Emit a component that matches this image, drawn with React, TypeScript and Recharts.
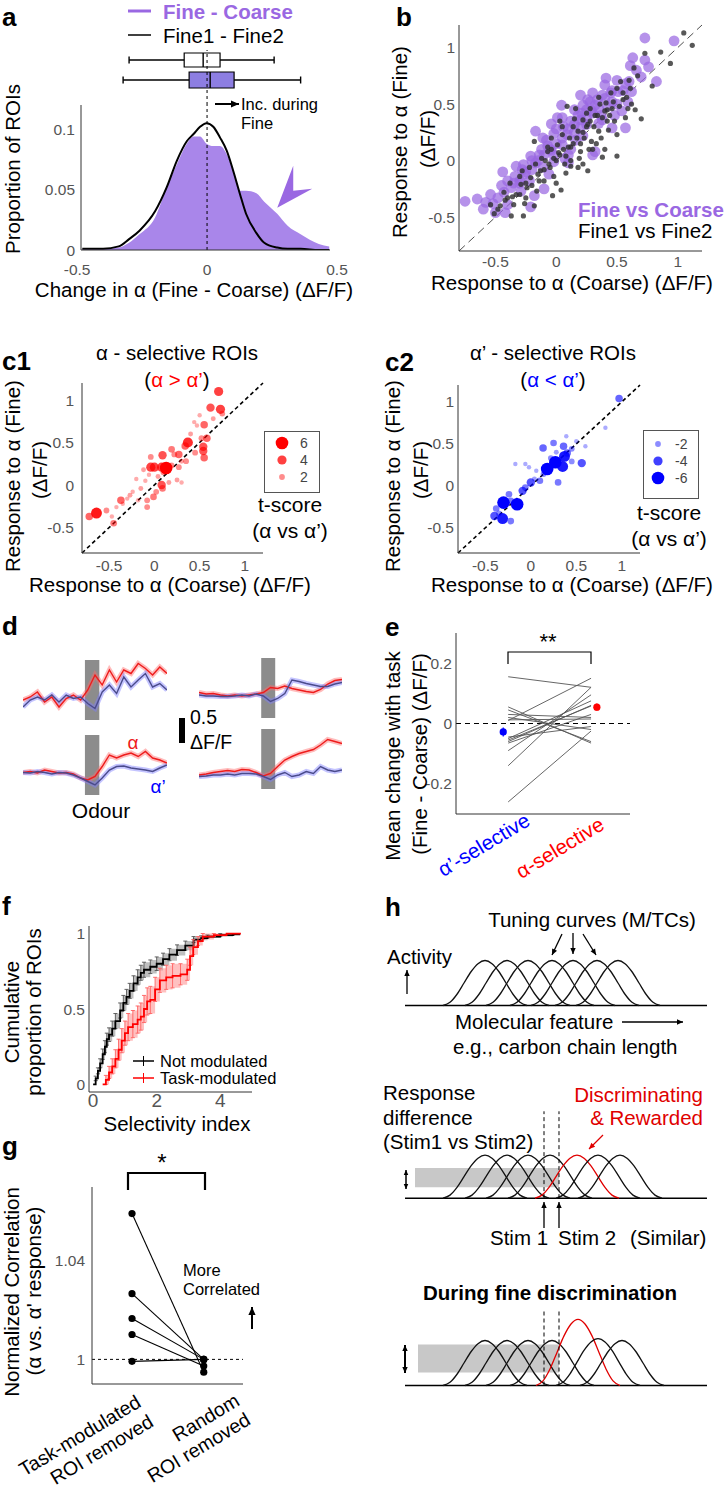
import React from 'react';
import {
  ComposedChart,
  ScatterChart,
  Scatter,
  Line,
  Area,
  XAxis,
  YAxis,
  ReferenceLine,
  ReferenceArea,
  ReferenceDot,
  ErrorBar,
} from 'recharts';

// ---- data ----

// a: histogram of change in alpha response
const HIST_X = [-0.48, -0.4, -0.34, -0.3, -0.26, -0.2, -0.155, -0.116, -0.078, -0.052, -0.027, -0.002, 0.024, 0.05, 0.076, 0.1, 0.127, 0.15, 0.19, 0.22, 0.27, 0.31, 0.36, 0.43, 0.47];
const HIST_FINE_COARSE = [0.001, 0.001, 0.002, 0.006, 0.013, 0.027, 0.052, 0.071, 0.088, 0.094, 0.094, 0.088, 0.086, 0.086, 0.079, 0.066, 0.049, 0.049, 0.047, 0.04, 0.03, 0.02, 0.013, 0.005, 0.003];
const HIST_FINE1_FINE2 = [0.001, 0.001, 0.003, 0.009, 0.016, 0.032, 0.052, 0.074, 0.09, 0.096, 0.102, 0.105, 0.102, 0.093, 0.082, 0.066, 0.046, 0.03, 0.014, 0.006, 0.002, 0.001, 0.001, 0, 0];
// box plots: [whisker lo, q1, median, q3, whisker hi]
const BOX_FINE1_FINE2 = [-0.3, -0.088, -0.015, 0.05, 0.258];
const BOX_FINE_COARSE = [-0.323, -0.069, 0.012, 0.104, 0.36];

// b: response to alpha, coarse (x) vs fine (y)
const B_FINE_COARSE: [number, number][] = [
  [0.73, 1.085], [0.97, 1.06], [0.63, 0.91], [0.73, 0.89], [0.61, 0.84], [0.76, 0.83], [0.825, 0.7], [0.7, 0.74],
  [0.41, 0.73], [0.5, 0.71], [0.57, 0.68], [0.62, 0.61], [0.46, 0.62], [0.38, 0.58], [0.26, 0.54], [0.044, 0.49],
  [0.21, 0.42], [0.29, 0.44], [0.25, 0.375], [0.37, 0.4], [0.54, 0.44], [0.57, 0.29], [0.46, 0.29], [-0.04, 0.325],
  [-0.17, 0.26], [-0.11, 0.2], [-0.02, 0.24], [0.06, 0.3], [0.09, 0.23], [0.32, 0.08], [0.3, 0.05], [0.16, 0.18],
  [-0.07, 0.13], [0.05, 0.14], [0.12, 0.1], [-0.27, -0.035], [-0.17, -0.02], [-0.11, -0.06], [-0.44, -0.1], [-0.34, -0.14],
  [-0.26, -0.12], [-0.4, -0.18], [-0.22, -0.18], [-0.37, -0.24], [-0.29, -0.27], [-0.1, -0.25], [-0.18, -0.31], [-0.54, -0.3],
  [-0.43, -0.28], [-0.75, -0.36], [-0.65, -0.34], [-0.58, -0.37], [-0.6, -0.43], [-0.5, -0.46], [-0.42, -0.46], [-0.4, -0.39],
  [-0.21, -0.41], [0.07, 0.02], [-0.02, -0.01], [0.15, 0.45], [0.22, 0.49], [0.32, 0.49], [0.34, 0.54], [0.46, 0.52],
  [0.4, 0.67], [0.51, 0.61], [0.59, 0.52], [0.25, 0.32], [0.15, 0.32], [0.01, 0.38], [-0.04, 0.09], [-0.14, 0.05],
  [-0.21, 0.04], [-0.3, -0.18], [-0.48, -0.33], [0.2, 0.3], [0.35, 0.33], [0.1, 0.05], [-0.06, -0.12], [0.42, 0.48],
  [-0.3, -0.2], [-0.25, -0.1], [-0.2, -0.08], [-0.15, 0.0], [-0.1, 0.05], [-0.05, 0.1], [0.0, 0.15], [0.05, 0.2],
  [0.1, 0.28], [0.15, 0.25], [0.2, 0.36], [0.25, 0.45], [0.3, 0.42], [0.35, 0.46], [0.4, 0.55], [0.45, 0.6],
  [0.5, 0.5], [0.55, 0.62], [0.3, 0.6], [0.28, 0.52], [0.18, 0.4], [0.12, 0.35], [0.0, 0.28], [-0.08, 0.18],
  [-0.12, 0.1], [-0.2, 0.0], [-0.28, -0.08], [-0.35, -0.2], [-0.33, -0.05], [0.05, 0.38], [0.2, 0.58], [0.6, 0.7],
  [0.66, 0.8], [0.38, 0.36], [0.48, 0.4], [0.1, -0.02], [-0.02, 0.05], [0.22, 0.22], [-0.45, -0.22], [-0.52, -0.38],
];
const B_FINE1_FINE2: [number, number][] = [
  [1.05, 1.13], [1.12, 1.02], [0.86, 0.96], [0.73, 0.95], [0.94, 0.86], [0.64, 0.82], [0.67, 0.75], [0.79, 0.66],
  [0.6, 0.71], [0.53, 0.7], [0.5, 0.64], [0.61, 0.64], [0.65, 0.45], [0.7, 0.37], [0.5, 0.04], [0.38, 0.03],
  [0.22, -0.03], [0.04, -0.26], [-0.03, -0.31], [-0.27, -0.49], [-0.37, -0.49], [-0.54, -0.39], [-0.48, -0.43], [0.09, 0.48],
  [0.03, 0.35], [-0.18, 0.17], [0.41, 0.51], [0.46, 0.46], [0.42, 0.35], [0.35, 0.26], [0.5, 0.23], [0.26, 0.32],
  [0.18, 0.26], [0.11, 0.2], [0.01, 0.14], [-0.07, 0.08], [-0.12, 0.02], [-0.02, 0.02], [0.07, -0.03], [0.12, 0.0],
  [-0.13, -0.09], [-0.21, -0.15], [-0.29, -0.21], [-0.33, -0.3], [-0.25, -0.33], [-0.16, -0.27], [-0.4, -0.33], [-0.46, -0.4],
  [-0.1, -0.18], [-0.02, -0.14], [0.08, -0.11], [0.2, 0.08], [0.29, 0.17], [0.37, 0.2], [0.43, 0.27], [0.32, 0.4],
  [0.25, 0.42], [0.15, 0.37], [0.35, 0.56], [0.55, 0.54], [0.57, 0.38], [0.59, 0.46], [0.26, -0.09], [0.19, 0.02],
  [-0.05, -0.06], [0.02, 0.07], [-0.17, -0.03], [-0.22, -0.06], [-0.3, -0.14], [-0.35, -0.39], [-0.18, -0.4], [-0.43, -0.28],
  [-0.04, 0.2], [0.05, 0.23], [0.42, 0.45], [0.23, 0.2], [0.12, 0.12], [-0.09, 0.0], [-0.28, -0.09], [-0.38, -0.2],
  [-0.51, -0.47], [0.18, -0.06], [0.3, 0.1], [0.14, 0.3], [-0.24, -0.24],
  [-0.25, -0.2], [-0.2, -0.22], [-0.15, -0.12], [-0.1, -0.08], [-0.06, -0.03], [0.0, 0.0], [0.03, 0.05], [0.06, 0.1],
  [0.1, 0.12], [0.14, 0.15], [0.17, 0.2], [0.22, 0.25], [0.25, 0.3], [0.28, 0.35], [0.31, 0.3], [0.34, 0.4],
  [0.38, 0.38], [0.4, 0.44], [0.44, 0.4], [0.47, 0.52], [0.48, 0.35], [0.52, 0.48], [0.55, 0.6], [0.58, 0.56],
  [0.62, 0.5], [0.33, 0.15], [0.27, 0.1], [0.2, 0.15], [0.08, 0.04], [-0.04, 0.1], [-0.14, -0.18], [-0.3, -0.3],
  [-0.36, -0.32], [-0.42, -0.35], [-0.26, -0.38], [0.0, -0.2], [0.12, -0.05], [0.4, 0.1], [0.16, 0.46], [0.28, 0.46],
  [0.45, 0.6], [0.36, 0.5], [0.22, 0.36], [0.05, 0.3], [-0.07, 0.12],
];

// c1 / c2: [coarse, fine, |t-score|]
const C1_ALPHA_SEL: [number, number, number][] = [
  [0.71, 1.1, 4], [0.62, 0.91, 3.5], [0.73, 0.89, 4], [0.75, 0.84, 2], [0.55, 0.71, 3], [0.52, 0.55, 2], [0.58, 0.55, 3],
  [0.37, 0.5, 4.5], [0.34, 0.46, 3], [0.54, 0.45, 3.5], [0.54, 0.4, 3.5], [0.55, 0.32, 3], [0.09, 0.35, 3.5], [0.19, 0.42, 2.5],
  [0.27, 0.36, 3], [0.22, 0.36, 2], [-0.04, 0.33, 2], [-0.04, 0.21, 4], [0.0, 0.21, 4], [0.08, 0.21, 4], [0.19, 0.23, 2],
  [0.27, 0.21, 2], [-0.12, 0.18, 1.5], [0.08, 0.0, 3.5], [0.09, -0.04, 2.5], [0.02, -0.08, 2], [-0.01, -0.14, 2.5],
  [-0.08, -0.18, 2], [-0.15, -0.04, 1.5], [-0.2, 0.07, 1.2], [-0.27, -0.12, 1.5], [-0.37, -0.18, 3], [-0.18, -0.18, 1.2],
  [-0.08, -0.26, 2], [-0.42, -0.26, 1.2], [-0.53, -0.3, 2], [-0.64, -0.33, 5], [-0.72, -0.37, 3], [-0.45, -0.45, 2.5],
  [-0.47, -0.37, 1.2], [0.4, 0.6, 1.5], [0.44, 0.74, 1.2], [0.5, 0.82, 1.2], [0.47, 0.7, 1.2], [0.25, 0.06, 1.5],
  [0.3, 0.03, 1.2], [0.16, 0.03, 1.5], [0.04, 0.1, 1.5], [-0.06, 0.12, 1.2], [-0.1, 0.05, 1.2], [-0.24, -0.08, 1.2],
  [-0.3, -0.16, 1.2], [-0.35, -0.22, 1.2], [0.1, 0.15, 2], [0.3, 0.28, 1.5], [0.45, 0.38, 2], [0.65, 0.78, 1.5],
  [0.35, 0.28, 2], [0.13, 0.2, 6],
];
const C2_ALPHA2_SEL: [number, number, number][] = [
  [0.97, 1.04, 3], [0.82, 0.69, 1.2], [0.135, 0.45, 3], [0.25, 0.51, 2.5], [0.36, 0.47, 3], [0.39, 0.59, 1.2], [0.45, 0.44, 2],
  [0.56, 0.27, 3.5], [0.37, 0.35, 5], [0.35, 0.23, 5], [0.3, 0.04, 2.5], [0.1, 0.06, 2.5], [0.04, 0.08, 1.5],
  [0.0, 0.04, 3.5], [-0.09, -0.06, 3.5], [-0.06, -0.02, 2.5], [-0.17, 0.26, 1.2], [-0.06, 0.26, 1.2], [-0.24, -0.1, 2.5],
  [-0.22, -0.18, 2.5], [-0.38, -0.27, 2.5], [-0.4, -0.36, 3.5], [-0.31, -0.39, 5], [-0.22, -0.42, 2.5], [-0.35, -0.33, 2],
  [0.14, 0.14, 2], [0.22, 0.33, 2], [0.45, 0.29, 2], [0.4, 0.39, 3], [0.28, 0.4, 1.5], [0.06, 0.18, 1.2], [-0.02, 0.22, 1.2],
  [0.5, 0.53, 1.2], [0.6, 0.47, 1.2], [0.18, 0.2, 6], [0.27, 0.28, 6], [-0.15, -0.22, 6], [-0.3, -0.2, 6],
];

// d: example traces (ΔF/F), alpha (red) and alpha' (blue)
const D_T = [0, 0.5, 1, 1.5, 2, 2.5, 3, 3.5, 4, 4.5, 5, 5.5, 6, 6.5, 7, 7.5, 8, 8.5, 9, 9.5, 10];
const D_TL_ALPHA = [0.07, 0.13, 0.23, 0.03, 0.13, -0.07, 0.1, 0.17, 0.07, 0.27, 0.57, 0.37, 0.67, 0.43, 0.67, 0.6, 0.8, 0.7, 0.57, 0.73, 0.6];
const D_TL_ALPHA2 = [-0.07, 0.07, 0.13, 0.07, 0.17, 0.03, 0.17, 0.1, 0.13, 0.0, -0.1, 0.23, 0.37, 0.2, 0.53, 0.33, 0.47, 0.6, 0.33, 0.4, 0.27];
const D_TR_ALPHA = [0.05, 0.02, 0.03, 0, -0.02, 0, -0.02, 0, 0.02, 0.05, 0.15, 0.13, 0.18, 0.13, 0.1, 0.07, 0.05, 0.11, 0.22, 0.29, 0.31];
const D_TR_ALPHA2 = [0, -0.02, -0.02, -0.03, -0.03, -0.02, 0, -0.02, 0.02, -0.02, -0.13, -0.07, 0.03, 0.3, 0.27, 0.23, 0.2, 0.17, 0.17, 0.22, 0.25];
const D_BL_ALPHA = [0, 0.02, -0.01, 0.05, 0.02, -0.01, 0, -0.03, -0.11, -0.15, -0.08, 0.12, 0.35, 0.29, 0.35, 0.39, 0.32, 0.42, 0.29, 0.25, 0.19];
const D_BL_ALPHA2 = [0, -0.01, 0.02, 0, -0.03, 0, -0.01, -0.05, -0.11, -0.18, -0.25, -0.11, 0.05, 0.12, 0.13, 0.09, 0.07, 0.05, 0.02, 0.09, 0.15];
const D_BR_ALPHA = [0, 0.02, 0.05, 0.07, 0.09, 0.07, 0.11, 0.1, 0.05, -0.02, 0.03, 0.17, 0.3, 0.37, 0.43, 0.47, 0.51, 0.6, 0.71, 0.67, 0.63];
const D_BR_ALPHA2 = [-0.03, -0.02, 0, 0, 0.02, 0, 0.03, 0.03, 0.02, -0.03, -0.09, 0, 0.05, -0.03, 0, 0.07, 0.03, 0.17, 0.1, 0.07, 0.1];

// e: mean change with task, per animal (alpha'-selective -> alpha-selective)
const E_ALPHA2_SEL = [0.155, -0.26, -0.14, -0.09, 0.055, 0.045, -0.06, -0.055, -0.05, 0.03, 0.01, 0.012, -0.045, 0.02, -0.065];
const E_ALPHA_SEL = [0.12, -0.025, 0.12, 0.095, -0.065, -0.06, 0.06, 0.058, 0.075, 0.02, 0.15, 0.015, -0.01, -0.02, 0.03];
const E_MEAN = [-0.028, 0.054];
const E_SEM = [0.015, 0.012];

// f: cumulative proportion vs selectivity index
const F_NOT_X = [0, 0.08, 0.15, 0.22, 0.3, 0.37, 0.43, 0.5, 0.6, 0.7, 0.85, 0.95, 1.05, 1.15, 1.27, 1.4, 1.5, 1.6, 1.8, 2.0, 2.2, 2.4, 2.64, 2.9, 3.16, 3.4, 3.6, 4.0, 4.4, 4.6];
const F_NOT_Y = [0, 0.04, 0.09, 0.14, 0.2, 0.25, 0.3, 0.33, 0.37, 0.42, 0.49, 0.54, 0.58, 0.62, 0.67, 0.71, 0.74, 0.76, 0.78, 0.8, 0.83, 0.86, 0.89, 0.92, 0.96, 0.97, 0.98, 0.99, 0.995, 1.0];
const F_NOT_ERR = [0, 0.015, 0.02, 0.03, 0.035, 0.04, 0.04, 0.045, 0.05, 0.05, 0.05, 0.05, 0.05, 0.05, 0.05, 0.05, 0.05, 0.05, 0.045, 0.045, 0.04, 0.04, 0.035, 0.03, 0.02, 0.015, 0.01, 0.01, 0.005, 0];
const F_TASK_X = [0.3, 0.4, 0.5, 0.6, 0.7, 0.8, 0.9, 1.0, 1.1, 1.25, 1.4, 1.5, 1.6, 1.7, 1.8, 1.95, 2.1, 2.3, 2.5, 2.75, 2.96, 3.05, 3.15, 3.3, 3.45, 3.8, 4.2, 4.65];
const F_TASK_Y = [0, 0.03, 0.08, 0.12, 0.17, 0.23, 0.29, 0.34, 0.38, 0.4, 0.43, 0.45, 0.5, 0.55, 0.56, 0.63, 0.69, 0.71, 0.72, 0.73, 0.76, 0.85, 0.91, 0.95, 0.98, 0.99, 1.0, 1.0];
const F_TASK_ERR = [0, 0.03, 0.04, 0.05, 0.06, 0.07, 0.08, 0.08, 0.09, 0.09, 0.09, 0.09, 0.09, 0.09, 0.09, 0.08, 0.08, 0.08, 0.08, 0.07, 0.07, 0.06, 0.05, 0.03, 0.02, 0.01, 0, 0];

// g: normalized correlation
const G_TASK_REMOVED = [1.0592, 1.0267, 1.0166, 1.0101, 0.9992];
const G_RANDOM_REMOVED = [0.9948, 1.0, 1.0, 0.9973, 1.0];

// h: schematic tuning curves (one bump profile, shifted along the feature axis)
const BUMP_DX = [-42, -35, -28, -21, -14, -7, 0, 7, 14, 21, 28, 35, 42];
const BUMP_H = [0, 0.07, 0.25, 0.5, 0.75, 0.93, 1, 0.93, 0.75, 0.5, 0.25, 0.07, 0];
const H_TOP_CENTERS = [80, 102, 123, 147, 168, 192, 213];
const H_MID_CENTERS = [80, 102, 123, 145, 172, 193, 215];
const H_BOT_CENTERS = [80, 102, 123, 147, 173, 193, 217];
const H_BOT_HEIGHTS = [1, 1, 1, 1, 1.47, 1.04, 1];
const H_REWARDED = 4;
const H_STIMS = [139, 154];

// ---- styling ----
const FONT = '"Liberation Sans", Arial, Helvetica, sans-serif';
const PURPLE = '#9a68e2';
const PURPLE_FILL = '#a986ea';
const BOX_PURPLE = '#8d7ee2';
const AXIS = '#333';
const TICK = { fontSize: 15.5, fill: '#555', fontFamily: FONT };
const RED = '#ff0000';
const BLUE = '#0000ff';
const LBL = 20.5; // axis-label font size
const ANN = 16.5; // small annotation font size

type Frame = { x0: number; y0: number; x1: number; y1: number; yw?: number; xh?: number; mt?: number; mr?: number };
function place(f: Frame) {
  const yw = f.yw ?? 0;
  const xh = f.xh ?? 0;
  const mt = f.mt ?? 0;
  const mr = f.mr ?? 0;
  return {
    style: { position: 'absolute' as const, left: f.x0 - yw, top: f.y0 - mt },
    width: f.x1 - f.x0 + yw + mr,
    height: f.y1 - f.y0 + mt + xh,
    margin: { top: mt, right: mr, bottom: 0, left: 0 },
  };
}

function T({ x, y, s = LBL, c = '#000', b = false, a = 'start', r = 0, children }: any) {
  const tx = a === 'middle' ? '-50%' : a === 'end' ? '-100%' : '0%';
  return (
    <div
      style={{
        position: 'absolute',
        left: x,
        top: y,
        fontFamily: FONT,
        fontSize: s,
        color: c,
        fontWeight: b ? 700 : 400,
        whiteSpace: 'nowrap',
        lineHeight: 1,
        transform: `translate(${tx}, -50%) rotate(${r}deg)`,
      }}
    >
      {children}
    </div>
  );
}

function Arrow({ x1, y1, x2, y2, c = '#000', w = 1.3, h = 6, both = false }: any) {
  const ang = Math.atan2(y2 - y1, x2 - x1);
  const head = (x: number, y: number, a: number) => {
    const bx = x - h * Math.cos(a);
    const by = y - h * Math.sin(a);
    const px = h * 0.45 * Math.sin(a);
    const py = h * 0.45 * Math.cos(a);
    return <polygon points={`${x},${y} ${bx + px},${by - py} ${bx - px},${by + py}`} fill={c} />;
  };
  return (
    <g>
      <line x1={x1} y1={y1} x2={x2} y2={y2} stroke={c} strokeWidth={w} />
      {head(x2, y2, ang)}
      {both ? head(x1, y1, ang + Math.PI) : null}
    </g>
  );
}

const sizeR = (t: number) => 1.2 + t * 0.85;
const sizeA = (t: number) => Math.min(1, 0.15 + t * 0.15);

// ---- panels ----
function PanelA() {
  const rows = HIST_X.map((x, i) => ({ x, fc: HIST_FINE_COARSE[i], ff: HIST_FINE1_FINE2[i] }));
  const xDom: [number, number] = [-0.485, 0.473];
  const boxes = [
    { s: BOX_FINE1_FINE2, c: 45, h: 7, fill: '#ffffff' },
    { s: BOX_FINE_COARSE, c: 25, h: 8, fill: BOX_PURPLE },
  ];
  const pb = place({ x0: 81, y0: 50, x1: 330, y1: 105 });
  const pm = place({ x0: 81, y0: 105, x1: 330, y1: 250, yw: 45, xh: 30, mt: 4, mr: 20 });
  return (
    <>
      <div style={pb.style}>
        <ComposedChart width={pb.width} height={pb.height} margin={pb.margin} data={boxes.map((b) => ({ x: b.s[2], y: b.c }))}>
          <XAxis type="number" dataKey="x" domain={xDom} allowDataOverflow hide />
          <YAxis type="number" dataKey="y" domain={[0, 55]} allowDataOverflow hide />
          <ReferenceLine x={0} stroke="#000" strokeDasharray="3 3" strokeWidth={1} />
          {boxes.map((b, i) => (
            <React.Fragment key={i}>
              <ReferenceLine segment={[{ x: b.s[0], y: b.c }, { x: b.s[1], y: b.c }]} stroke="#000" strokeWidth={1.4} />
              <ReferenceLine segment={[{ x: b.s[3], y: b.c }, { x: b.s[4], y: b.c }]} stroke="#000" strokeWidth={1.4} />
              <ReferenceLine segment={[{ x: b.s[0], y: b.c - 3.5 }, { x: b.s[0], y: b.c + 3.5 }]} stroke="#000" strokeWidth={1.4} />
              <ReferenceLine segment={[{ x: b.s[4], y: b.c - 3.5 }, { x: b.s[4], y: b.c + 3.5 }]} stroke="#000" strokeWidth={1.4} />
              <ReferenceArea x1={b.s[1]} x2={b.s[3]} y1={b.c - b.h} y2={b.c + b.h} fill={b.fill} fillOpacity={1} stroke="#000" strokeWidth={1.2} />
              <ReferenceLine segment={[{ x: b.s[2], y: b.c - b.h }, { x: b.s[2], y: b.c + b.h }]} stroke="#000" strokeWidth={1.4} />
            </React.Fragment>
          ))}
          <Scatter dataKey="y" isAnimationActive={false} shape={() => <g />} />
        </ComposedChart>
      </div>
      <div style={pm.style}>
        <ComposedChart width={pm.width} height={pm.height} margin={pm.margin} data={rows}>
          <XAxis type="number" dataKey="x" domain={xDom} allowDataOverflow ticks={[-0.5, 0, 0.5]} interval={0}
            tick={TICK} tickSize={0} tickMargin={14} height={30} axisLine={{ stroke: AXIS }} />
          <YAxis type="number" domain={[0, 0.12]} allowDataOverflow ticks={[0, 0.05, 0.1]} tick={TICK}
            tickSize={0} tickMargin={6} width={45} axisLine={{ stroke: AXIS }} />
          <Area type="monotone" dataKey="fc" stroke="none" fill={PURPLE_FILL} fillOpacity={1} isAnimationActive={false} />
          <Line type="monotone" dataKey="ff" stroke="#000" strokeWidth={2} dot={false} isAnimationActive={false} />
          <ReferenceLine x={0} stroke="#000" strokeDasharray="3 3" strokeWidth={1} />
          <ReferenceDot x={0.27} y={0.035} r={1} shape={(p: any) => (
            <path d={`M${p.cx},${p.cy} L${p.cx + 16},${p.cy - 42} L${p.cx + 16},${p.cy - 17} L${p.cx + 35},${p.cy - 19} Z`} fill={PURPLE} />
          )} />
        </ComposedChart>
      </div>
    </>
  );
}

function PanelB() {
  const fc = B_FINE_COARSE.map(([x, y]) => ({ x, y }));
  const ff = B_FINE1_FINE2.map(([x, y]) => ({ x, y }));
  const p = place({ x0: 459, y0: 25, x1: 702, y1: 251, yw: 40, xh: 25, mt: 4, mr: 20 });
  return (
    <div style={p.style}>
      <ScatterChart width={p.width} height={p.height} margin={p.margin}>
        <XAxis type="number" dataKey="x" domain={[-0.8, 1.2]} allowDataOverflow ticks={[-0.5, 0, 0.5, 1]} interval={0}
          tick={TICK} tickSize={0} tickMargin={5} height={25} axisLine={{ stroke: AXIS }} />
        <YAxis type="number" dataKey="y" domain={[-0.8, 1.2]} allowDataOverflow ticks={[-0.5, 0, 0.5, 1]} interval={0}
          tick={TICK} tickSize={0} tickMargin={4} width={40} axisLine={{ stroke: AXIS }} />
        <Scatter data={fc} isAnimationActive={false}
          shape={(s: any) => <circle cx={s.cx} cy={s.cy} r={5.4} fill={PURPLE} fillOpacity={0.72} />} />
        <Scatter data={ff} isAnimationActive={false}
          shape={(s: any) => <circle cx={s.cx} cy={s.cy} r={2.6} fill="#2e2e2e" fillOpacity={0.8} />} />
        <ReferenceLine segment={[{ x: -0.8, y: -0.8 }, { x: 1.2, y: 1.2 }]} stroke="#222" strokeWidth={0.8} strokeDasharray="8 5" />
      </ScatterChart>
    </div>
  );
}

function PanelC({ pts, color, frame }: { pts: [number, number, number][]; color: string; frame: Frame }) {
  const rows = [...pts].sort((a, b) => a[2] - b[2]).map(([x, y, t]) => ({ x, y, t }));
  const p = place(frame);
  return (
    <div style={p.style}>
      <ScatterChart width={p.width} height={p.height} margin={p.margin}>
        <XAxis type="number" dataKey="x" domain={[-0.8, 1.2]} allowDataOverflow ticks={[-0.5, 0, 0.5, 1]} interval={0}
          tick={TICK} tickSize={0} tickMargin={7} height={25} axisLine={{ stroke: AXIS }} />
        <YAxis type="number" dataKey="y" domain={[-0.8, 1.2]} allowDataOverflow ticks={[-0.5, 0, 0.5, 1]} interval={0}
          tick={TICK} tickSize={0} tickMargin={frame.yw === 45 ? 8 : 4} width={frame.yw} axisLine={{ stroke: AXIS }} />
        <Scatter data={rows} isAnimationActive={false}
          shape={(s: any) => <circle cx={s.cx} cy={s.cy} r={sizeR(s.payload.t)} fill={color} fillOpacity={sizeA(s.payload.t)} />} />
        <ReferenceLine segment={[{ x: -0.8, y: -0.8 }, { x: 1.2, y: 1.2 }]} stroke="#000" strokeWidth={1.6} strokeDasharray="4 3" />
      </ScatterChart>
    </div>
  );
}

const D_PANELS = [
  { key: 'tl', f: { x0: 23, y0: 660, x1: 167, y1: 720 }, dom: [-0.33, 0.87], odour: [4.3, 5.3], a: D_TL_ALPHA, b: D_TL_ALPHA2 },
  { key: 'tr', f: { x0: 199, y0: 658, x1: 342, y1: 718 }, dom: [-0.46, 0.74], odour: [4.35, 5.33], a: D_TR_ALPHA, b: D_TR_ALPHA2 },
  { key: 'bl', f: { x0: 23, y0: 735, x1: 167, y1: 795 }, dom: [-0.45, 0.75], odour: [4.3, 5.3], a: D_BL_ALPHA, b: D_BL_ALPHA2 },
  { key: 'br', f: { x0: 199, y0: 729, x1: 342, y1: 789 }, dom: [-0.28, 0.92], odour: [4.35, 5.33], a: D_BR_ALPHA, b: D_BR_ALPHA2 },
];

function PanelD() {
  return (
    <>
      {D_PANELS.map((d) => {
        const p = place(d.f);
        const rows = D_T.map((t, i) => ({ t, a: d.a[i], b: d.b[i] }));
        return (
          <div key={d.key} style={p.style}>
            <ComposedChart width={p.width} height={p.height} margin={p.margin} data={rows}>
              <XAxis type="number" dataKey="t" domain={[0, 10]} allowDataOverflow hide />
              <YAxis type="number" domain={d.dom} allowDataOverflow hide />
              <ReferenceArea x1={d.odour[0]} x2={d.odour[1]} y1={d.dom[0]} y2={d.dom[1]} fill="#8c8c8c" fillOpacity={1} stroke="none" />
              <Line type="linear" dataKey="a" stroke="#ff6a6a" strokeOpacity={0.45} strokeWidth={5} dot={false} isAnimationActive={false} />
              <Line type="linear" dataKey="b" stroke="#7d7dff" strokeOpacity={0.45} strokeWidth={5} dot={false} isAnimationActive={false} />
              <Line type="linear" dataKey="a" stroke="#ee1c1c" strokeWidth={1.4} dot={false} isAnimationActive={false} />
              <Line type="linear" dataKey="b" stroke="#4a4b8c" strokeWidth={1.4} dot={false} isAnimationActive={false} />
            </ComposedChart>
          </div>
        );
      })}
    </>
  );
}

function PanelE() {
  const p = place({ x0: 456, y0: 633, x1: 630, y1: 814, yw: 45, xh: 2, mt: 0, mr: 10 });
  return (
    <div style={p.style}>
      <ComposedChart width={p.width} height={p.height} margin={p.margin}>
        <XAxis type="number" dataKey="x" domain={[0.37, 2.47]} allowDataOverflow ticks={[1, 2]} tick={false} tickSize={0} height={2}
          axisLine={{ stroke: AXIS }} />
        <YAxis type="number" dataKey="y" domain={[-0.3, 0.3]} allowDataOverflow ticks={[-0.2, 0, 0.2]} interval={0}
          tick={TICK} tickSize={0} tickMargin={4} width={45} axisLine={{ stroke: AXIS }} />
        <ReferenceLine y={0} stroke="#000" strokeDasharray="5 4" strokeWidth={1} />
        {E_ALPHA2_SEL.map((l, i) => (
          <Line key={i} data={[{ x: 1, y: l }, { x: 2, y: E_ALPHA_SEL[i] }]} dataKey="y" type="linear"
            stroke="#555" strokeWidth={0.9} dot={false} isAnimationActive={false} />
        ))}
        <Scatter data={[{ x: 0.94, y: E_MEAN[0], e: E_SEM[0] }]} dataKey="y" isAnimationActive={false}
          shape={(s: any) => <circle cx={s.cx} cy={s.cy} r={3.6} fill={BLUE} />}>
          <ErrorBar dataKey="e" direction="y" width={0} stroke={BLUE} strokeWidth={1.2} />
        </Scatter>
        <Scatter data={[{ x: 2.07, y: E_MEAN[1], e: E_SEM[1] }]} dataKey="y" isAnimationActive={false}
          shape={(s: any) => <circle cx={s.cx} cy={s.cy} r={3.6} fill={RED} />}>
          <ErrorBar dataKey="e" direction="y" width={0} stroke={RED} strokeWidth={1.2} />
        </Scatter>
      </ComposedChart>
    </div>
  );
}

function PanelF() {
  const notMod = F_NOT_X.map((x, i) => ({ x, y: F_NOT_Y[i], e: F_NOT_ERR[i], band: [F_NOT_Y[i] - F_NOT_ERR[i], F_NOT_Y[i] + F_NOT_ERR[i]] }));
  const taskMod = F_TASK_X.map((x, i) => ({ x, y: F_TASK_Y[i], e: F_TASK_ERR[i], band: [F_TASK_Y[i] - F_TASK_ERR[i], F_TASK_Y[i] + F_TASK_ERR[i]] }));
  const p = place({ x0: 89, y0: 926, x1: 252, y1: 1092, yw: 35, xh: 22, mt: 4, mr: 10 });
  return (
    <div style={p.style}>
      <ComposedChart width={p.width} height={p.height} margin={p.margin}>
        <XAxis type="number" dataKey="x" domain={[-0.13, 5]} allowDataOverflow ticks={[0, 2, 4]} interval={0}
          tick={{ ...TICK, fontSize: 19 }} tickSize={0} tickMargin={2} height={22} axisLine={{ stroke: AXIS }} />
        <YAxis type="number" dataKey="y" domain={[-0.05, 1.05]} allowDataOverflow ticks={[0, 0.5, 1]} interval={0}
          tick={TICK} tickSize={0} tickMargin={4} width={35} axisLine={{ stroke: AXIS }} />
        <Area data={notMod} dataKey="band" type="stepAfter" stroke="none" fill="#8a8a8a" fillOpacity={0.55} isAnimationActive={false} />
        <Area data={taskMod} dataKey="band" type="stepAfter" stroke="none" fill="#ff8c8c" fillOpacity={0.55} isAnimationActive={false} />
        <Line data={notMod} dataKey="y" type="stepAfter" stroke="#000" strokeWidth={1.8} dot={false} isAnimationActive={false}>
          <ErrorBar dataKey="e" direction="y" width={2} stroke="#555" strokeWidth={0.9} />
        </Line>
        <Line data={taskMod} dataKey="y" type="stepAfter" stroke={RED} strokeWidth={1.8} dot={false} isAnimationActive={false}>
          <ErrorBar dataKey="e" direction="y" width={2} stroke="#ff6060" strokeWidth={0.9} />
        </Line>
      </ComposedChart>
    </div>
  );
}

function PanelG() {
  const p = place({ x0: 92, y0: 1187, x1: 243, y1: 1384, yw: 50, xh: 2, mt: 0, mr: 10 });
  return (
    <div style={p.style}>
      <ComposedChart width={p.width} height={p.height} margin={p.margin}>
        <XAxis type="number" dataKey="x" domain={[0.5, 2.5]} allowDataOverflow ticks={[1, 2]} tick={false} tickSize={0} height={2}
          axisLine={{ stroke: AXIS }} />
        <YAxis type="number" dataKey="y" domain={[0.99, 1.07]} allowDataOverflow ticks={[1, 1.02, 1.04, 1.06]} interval={0}
          tickFormatter={(v: number) => (v === 1 ? '1' : v === 1.04 ? '1.04' : '')}
          tick={TICK} tickSize={0} tickMargin={7} width={50} axisLine={{ stroke: AXIS }} />
        <ReferenceLine y={1} stroke="#000" strokeDasharray="3 3" strokeWidth={1} />
        {G_TASK_REMOVED.map((v, i) => (
          <Line key={i} data={[{ x: 1.03, y: v }, { x: 1.98, y: G_RANDOM_REMOVED[i] }]} dataKey="y" type="linear"
            stroke="#000" strokeWidth={1.1} isAnimationActive={false}
            dot={{ r: 3.6, fill: '#000', stroke: 'none' }} />
        ))}
      </ComposedChart>
    </div>
  );
}

function bump(c: number, a: number) {
  return BUMP_DX.map((d, i) => ({ x: c + d, y: BUMP_H[i] * a }));
}

function PanelH() {
  const pt = place({ x0: 405, y0: 955.5, x1: 707, y1: 1009.5 });
  const pmid = place({ x0: 405, y0: 1109.85, x1: 707, y1: 1202.3 });
  const pbot = place({ x0: 405, y0: 1308.5, x1: 707, y1: 1389.5 });
  const curve = (key: string, data: any[], color: string) => (
    <Line key={key} data={data} dataKey="y" type="monotone" stroke={color} strokeWidth={1.3} dot={false} isAnimationActive={false} />
  );
  return (
    <>
      <div style={pt.style}>
        <ComposedChart width={pt.width} height={pt.height} margin={pt.margin}>
          <XAxis type="number" dataKey="x" domain={[0, 302]} allowDataOverflow hide />
          <YAxis type="number" dataKey="y" domain={[-0.1, 1.1]} allowDataOverflow hide />
          <ReferenceLine y={0} stroke="#000" strokeWidth={1.5} />
          {H_TOP_CENTERS.map((c, i) => curve('t' + i, bump(c, 1), '#111'))}
        </ComposedChart>
      </div>
      <div style={pmid.style}>
        <ComposedChart width={pmid.width} height={pmid.height} margin={pmid.margin}>
          <XAxis type="number" dataKey="x" domain={[0, 302]} allowDataOverflow hide />
          <YAxis type="number" dataKey="y" domain={[-0.1, 2.05]} allowDataOverflow hide />
          <ReferenceArea x1={10} x2={H_STIMS[1]} y1={0.256} y2={0.7} fill="#c8c8c8" fillOpacity={1} stroke="none" />
          <ReferenceLine y={0} stroke="#000" strokeWidth={1.5} />
          {H_MID_CENTERS.map((c, i) => curve('m' + i, bump(c, 1), i === H_REWARDED ? '#e00000' : '#111'))}
          {H_STIMS.map((s) => (
            <ReferenceLine key={s} segment={[{ x: s, y: 0 }, { x: s, y: 2.02 }]} stroke="#000" strokeDasharray="4 3" strokeWidth={1} />
          ))}
        </ComposedChart>
      </div>
      <div style={pbot.style}>
        <ComposedChart width={pbot.width} height={pbot.height} margin={pbot.margin}>
          <XAxis type="number" dataKey="x" domain={[0, 302]} allowDataOverflow hide />
          <YAxis type="number" dataKey="y" domain={[-0.1, 1.7]} allowDataOverflow hide />
          <ReferenceArea x1={13} x2={H_STIMS[1]} y1={0.29} y2={0.91} fill="#c8c8c8" fillOpacity={1} stroke="none" />
          <ReferenceLine y={0} stroke="#000" strokeWidth={1.5} />
          {H_BOT_CENTERS.map((c, i) => curve('b' + i, bump(c, H_BOT_HEIGHTS[i]), i === H_REWARDED ? '#e00000' : '#111'))}
          {H_STIMS.map((s) => (
            <ReferenceLine key={s} segment={[{ x: s, y: 0 }, { x: s, y: 1.67 }]} stroke="#000" strokeDasharray="4 3" strokeWidth={1} />
          ))}
        </ComposedChart>
      </div>
    </>
  );
}

function Overlay() {
  return (
    <svg width={726} height={1492} style={{ position: 'absolute', left: 0, top: 0, pointerEvents: 'none' }}>
      {/* a legend + arrow */}
      <line x1={128} y1={11} x2={151} y2={11} stroke={PURPLE} strokeWidth={3} />
      <line x1={128} y1={35} x2={151} y2={35} stroke="#000" strokeWidth={1.5} />
      <Arrow x1={215} y1={104} x2={239} y2={104} w={2} h={8} />
      {/* c1 / c2 legend markers */}
      <circle cx={282} cy={443} r={sizeR(6)} fill={RED} fillOpacity={sizeA(6)} />
      <circle cx={282} cy={460} r={sizeR(4)} fill={RED} fillOpacity={sizeA(4)} />
      <circle cx={282} cy={477} r={sizeR(2)} fill={RED} fillOpacity={sizeA(2)} />
      <circle cx={658} cy={444} r={sizeR(2)} fill={BLUE} fillOpacity={sizeA(2)} />
      <circle cx={658} cy={461} r={sizeR(4)} fill={BLUE} fillOpacity={sizeA(4)} />
      <circle cx={658} cy={478} r={sizeR(6)} fill={BLUE} fillOpacity={sizeA(6)} />
      {/* d scale bar */}
      <rect x={179} y={718} width={6} height={25} fill="#000" />
      {/* e bracket */}
      <path d="M508,664 V652 H591 V664" stroke="#000" strokeWidth={1.2} fill="none" />
      {/* f legend */}
      <line x1={133} y1={1061} x2={154} y2={1061} stroke="#000" strokeWidth={1.5} />
      <line x1={143.5} y1={1056} x2={143.5} y2={1066} stroke="#000" strokeWidth={1} />
      <line x1={133} y1={1078} x2={154} y2={1078} stroke={RED} strokeWidth={1.5} />
      <line x1={143.5} y1={1073} x2={143.5} y2={1083} stroke={RED} strokeWidth={1} />
      {/* g bracket + arrow */}
      <path d="M128,1190 V1173 H205 V1190" stroke="#000" strokeWidth={2.2} fill="none" />
      <Arrow x1={252} y1={1329} x2={252} y2={1307} w={2} h={8} />
      {/* h arrows */}
      <Arrow x1={562} y1={934} x2={552} y2={955} />
      <Arrow x1={573} y1={933} x2={573} y2={954} />
      <Arrow x1={583} y1={934} x2={596} y2={955} />
      <Arrow x1={407} y1={994} x2={407} y2={970} />
      <Arrow x1={622} y1={1022} x2={683} y2={1022} />
      <Arrow x1={603} y1={1135} x2={589} y2={1149} c="#e00000" />
      <Arrow x1={406} y1={1170} x2={406} y2={1189} both w={1.5} h={5} />
      <Arrow x1={544} y1={1228} x2={544} y2={1202} />
      <Arrow x1={559} y1={1228} x2={559} y2={1202} />
      <Arrow x1={405} y1={1345} x2={405} y2={1373} both w={2} h={6} />
    </svg>
  );
}

export default function App() {
  return (
    <div style={{ position: 'absolute', left: 0, top: 0, width: 726, height: 1492, background: '#fff', overflow: 'hidden', fontFamily: FONT }}>
      <PanelA />
      <PanelB />
      <PanelC pts={C1_ALPHA_SEL} color={RED} frame={{ x0: 82, y0: 383, x1: 263, y1: 553, yw: 45, xh: 25, mt: 4, mr: 10 }} />
      <PanelC pts={C2_ALPHA2_SEL} color={BLUE} frame={{ x0: 458, y0: 385, x1: 640, y1: 553, yw: 40, xh: 25, mt: 4, mr: 10 }} />
      <PanelD />
      <PanelE />
      <PanelF />
      <PanelG />
      <PanelH />

      {/* legend boxes c1 / c2 */}
      <div style={{ position: 'absolute', left: 264, top: 431, width: 56, height: 62, border: '1px solid #555', boxSizing: 'border-box' }} />
      <div style={{ position: 'absolute', left: 643, top: 430, width: 56, height: 69, border: '1px solid #555', boxSizing: 'border-box' }} />

      <Overlay />

      {/* panel letters */}
      <T x={2} y={17} s={26} b>a</T>
      <T x={396} y={17} s={26} b>b</T>
      <T x={2} y={361} s={26} b>c1</T>
      <T x={385} y={362} s={26} b>c2</T>
      <T x={2} y={626} s={26} b>d</T>
      <T x={385} y={627} s={26} b>e</T>
      <T x={2} y={906} s={26} b>f</T>
      <T x={2} y={1146} s={26} b>g</T>
      <T x={385} y={907} s={26} b>h</T>

      {/* a */}
      <T x={163} y={12} b c={PURPLE}>Fine - Coarse</T>
      <T x={163} y={36}>Fine1 - Fine2</T>
      <T x={241} y={104} s={ANN}>Inc. during</T>
      <T x={241} y={123} s={ANN}>Fine</T>
      <T x={13} y={169} a="middle" r={-90}>Proportion of ROIs</T>
      <T x={194} y={290} a="middle">Change in α (Fine - Coarse) (ΔF/F)</T>

      {/* b */}
      <T x={400} y={142} a="middle" r={-90}>Response to α (Fine)</T>
      <T x={428} y={139} a="middle" r={-90}>(ΔF/F)</T>
      <T x={572} y={283} a="middle">Response to α (Coarse) (ΔF/F)</T>
      <T x={578} y={210} b c={PURPLE}>Fine vs Coarse</T>
      <T x={578} y={231}>Fine1 vs Fine2</T>

      {/* c1 */}
      <T x={177} y={353} a="middle">α - selective ROIs</T>
      <T x={177} y={380} a="middle">(<span style={{ color: RED }}>α &gt; α’</span>)</T>
      <T x={13} y={476} a="middle" r={-90}>Response to α (Fine)</T>
      <T x={40} y={470} a="middle" r={-90}>(ΔF/F)</T>
      <T x={170} y={585} a="middle">Response to α (Coarse) (ΔF/F)</T>
      <T x={300} y={443} s={14} c="#444">6</T>
      <T x={300} y={460} s={14} c="#444">4</T>
      <T x={300} y={477} s={14} c="#444">2</T>
      <T x={290} y={504} s={21} a="middle">t-score</T>
      <T x={290} y={530} s={21} a="middle">(α vs α’)</T>

      {/* c2 */}
      <T x={553} y={353} a="middle">α’ - selective ROIs</T>
      <T x={553} y={380} a="middle">(<span style={{ color: BLUE }}>α &lt; α’</span>)</T>
      <T x={393} y={476} a="middle" r={-90}>Response to α (Fine)</T>
      <T x={421} y={470} a="middle" r={-90}>(ΔF/F)</T>
      <T x={572} y={585} a="middle">Response to α (Coarse) (ΔF/F)</T>
      <T x={675} y={444} s={14} c="#444">-2</T>
      <T x={675} y={461} s={14} c="#444">-4</T>
      <T x={675} y={478} s={14} c="#444">-6</T>
      <T x={669} y={512} s={21} a="middle">t-score</T>
      <T x={669} y={538} s={21} a="middle">(α vs α’)</T>

      {/* d */}
      <T x={190} y={718} s={19.5}>0.5</T>
      <T x={190} y={743} s={19.5}>ΔF/F</T>
      <T x={133} y={742} s={19} c="#ee1c1c" a="middle">α</T>
      <T x={158} y={786} s={19} c={BLUE} a="middle">α’</T>
      <T x={101} y={810} s={21} a="middle">Odour</T>

      {/* e */}
      <T x={548} y={642} s={22} a="middle">**</T>
      <T x={393} y={756} a="middle" r={-90}>Mean change with task</T>
      <T x={420} y={754} a="middle" r={-90}>(Fine - Coarse) (ΔF/F)</T>
      <T x={484} y={845} c={BLUE} a="middle" r={-31}>α’-selective</T>
      <T x={560} y={848} c={RED} a="middle" r={-31}>α-selective</T>

      {/* f */}
      <T x={12} y={1012} a="middle" r={-90}>Cumulative</T>
      <T x={34} y={1012} a="middle" r={-90}>proportion of ROIs</T>
      <T x={177} y={1124} a="middle">Selectivity index</T>
      <T x={160} y={1061} s={ANN}>Not modulated</T>
      <T x={160} y={1078} s={ANN}>Task-modulated</T>

      {/* g */}
      <T x={162} y={1163} s={24} a="middle">*</T>
      <T x={12} y={1292} a="middle" r={-90}>Normalized Correlation</T>
      <T x={34} y={1291} a="middle" r={-90}>(α vs. α' response)</T>
      <T x={183} y={1270} s={ANN}>More</T>
      <T x={183} y={1289} s={ANN}>Correlated</T>
      <T x={80} y={1436} s={19.5} a="middle" r={-31}>Task-modulated</T>
      <T x={102} y={1450} s={19.5} a="middle" r={-31}>ROI removed</T>
      <T x={206} y={1418} s={19.5} a="middle" r={-31}>Random</T>
      <T x={199} y={1448} s={19.5} a="middle" r={-31}>ROI removed</T>

      {/* h */}
      <T x={592} y={920} a="middle">Tuning curves (M/TCs)</T>
      <T x={387} y={957}>Activity</T>
      <T x={455} y={1022}>Molecular feature</T>
      <T x={453} y={1047}>e.g., carbon chain length</T>
      <T x={383} y={1093}>Response</T>
      <T x={383} y={1118}>difference</T>
      <T x={383} y={1142}>(Stim1 vs Stim2)</T>
      <T x={703} y={1095} c="#e00000" a="end">Discriminating</T>
      <T x={703} y={1118} c="#e00000" a="end">&amp; Rewarded</T>
      <T x={490} y={1238}>Stim 1</T>
      <T x={558} y={1238}>Stim 2</T>
      <T x={630} y={1238}>(Similar)</T>
      <T x={550} y={1293} b a="middle">During fine discrimination</T>
    </div>
  );
}
